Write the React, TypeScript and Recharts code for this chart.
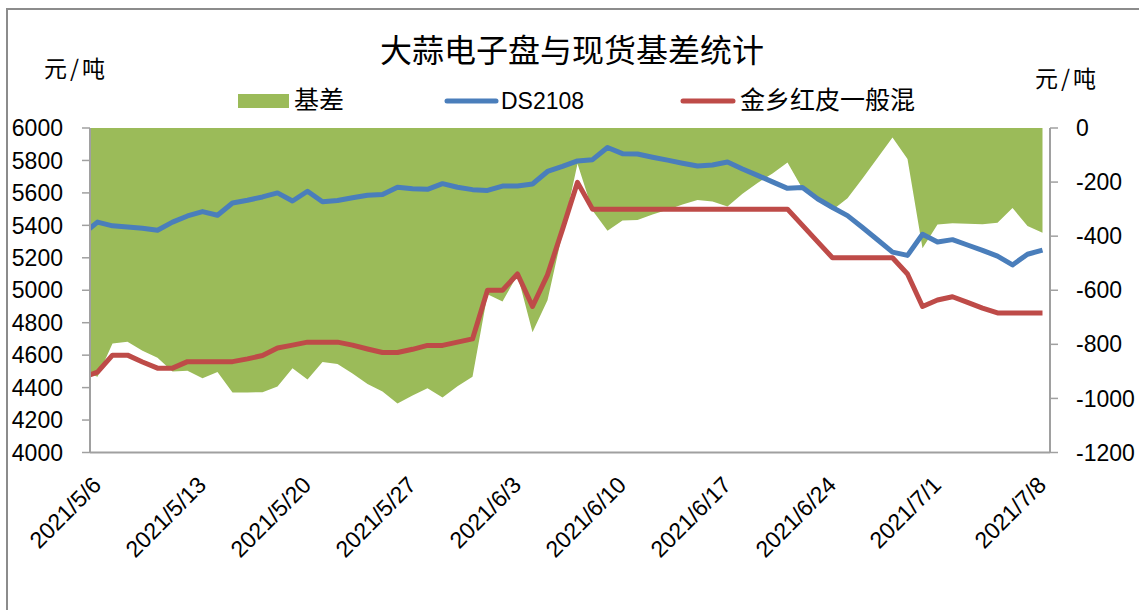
import React from 'react';
import { ComposedChart, Area, Line, XAxis, YAxis, Legend } from 'recharts';

// Dates (the first one lies just outside the visible axis range and is clipped)
const dates = [
  '2021/5/5',
  '2021/5/6', '2021/5/7', '2021/5/8', '2021/5/9', '2021/5/10', '2021/5/11', '2021/5/12',
  '2021/5/13', '2021/5/14', '2021/5/15', '2021/5/16', '2021/5/17', '2021/5/18', '2021/5/19',
  '2021/5/20', '2021/5/21', '2021/5/22', '2021/5/23', '2021/5/24', '2021/5/25', '2021/5/26',
  '2021/5/27', '2021/5/28', '2021/5/29', '2021/5/30', '2021/5/31', '2021/6/1', '2021/6/2',
  '2021/6/3', '2021/6/4', '2021/6/5', '2021/6/6', '2021/6/7', '2021/6/8', '2021/6/9',
  '2021/6/10', '2021/6/11', '2021/6/12', '2021/6/13', '2021/6/14', '2021/6/15', '2021/6/16',
  '2021/6/17', '2021/6/18', '2021/6/19', '2021/6/20', '2021/6/21', '2021/6/22', '2021/6/23',
  '2021/6/24', '2021/6/25', '2021/6/26', '2021/6/27', '2021/6/28', '2021/6/29', '2021/6/30',
  '2021/7/1', '2021/7/2', '2021/7/3', '2021/7/4', '2021/7/5', '2021/7/6', '2021/7/7',
  '2021/7/8',
];

// DS2108 (left axis, 元/吨)
const futures = [
  5344,
  5420, 5397, 5390, 5382, 5370, 5420, 5458,
  5485, 5462, 5538, 5555, 5575, 5600, 5550,
  5610, 5545, 5553, 5570, 5585, 5590, 5635,
  5625, 5622, 5657, 5635, 5620, 5615, 5642,
  5643, 5655, 5732, 5763, 5797, 5805, 5880,
  5842, 5840, 5820, 5802, 5783, 5766, 5772,
  5790, 5747, 5708, 5668, 5628, 5633, 5564,
  5510, 5460, 5387, 5311, 5235, 5215, 5345,
  5297, 5312, 5279, 5246, 5210, 5156, 5222,
  5247,
];

// 金乡红皮一般混 (left axis, 元/吨)
const spot = [
  4461,
  4495, 4600, 4600, 4558, 4520, 4520, 4560,
  4560, 4560, 4560, 4577, 4598, 4644, 4662,
  4680, 4680, 4680, 4662, 4638, 4616, 4616,
  4636, 4660, 4660, 4680, 4700, 5000, 5000,
  5100, 4900, 5095, 5375, 5665, 5500, 5500,
  5500, 5500, 5500, 5500, 5500, 5500, 5500,
  5500, 5500, 5500, 5500, 5500, 5400, 5300,
  5200, 5200, 5200, 5200, 5200, 5100, 4900,
  4940, 4960, 4925, 4890, 4860, 4860, 4860,
  4860,
];

// 基差 (right axis, 元/吨)
const basis = [
  -900,
  -920, -797, -790, -824, -850, -900, -898,
  -925, -902, -978, -978, -977, -956, -888,
  -930, -865, -873, -908, -947, -974, -1019,
  -989, -962, -997, -955, -920, -615, -642,
  -543, -755, -637, -388, -132, -305, -380,
  -342, -340, -320, -302, -283, -266, -272,
  -290, -243, -203, -168, -128, -225, -264,
  -303, -260, -187, -111, -35, -115, -445,
  -357, -352, -354, -356, -350, -296, -362,
  -387,
];

const tickDates = [
  '2021/5/6', '2021/5/13', '2021/5/20', '2021/5/27', '2021/6/3',
  '2021/6/10', '2021/6/17', '2021/6/24', '2021/7/1', '2021/7/8',
];
const leftTicks = [4000, 4200, 4400, 4600, 4800, 5000, 5200, 5400, 5600, 5800, 6000];
const rightTicks = [-1200, -1000, -800, -600, -400, -200, 0];

const titleText = '大蒜电子盘与现货基差统计';
const unitText = '元/吨';
const nameBasis = '基差';
const nameFutures = 'DS2108';
const nameSpot = '金乡红皮一般混';

const GREEN = '#9BBB59';
const BLUE = '#4A7EBB';
const RED = '#BE4B48';
const AXIS = '#A0A0A0';
const NUM_FONT = '"Liberation Sans", Arial, sans-serif';
const CJK_FONT = '"Noto Sans CJK SC", "Noto Sans", sans-serif';

const baseIndex = dates.indexOf('2021/5/6');
const data = dates.map((d, k) => ({
  day: k - baseIndex,
  date: d,
  basis: basis[k],
  futures: futures[k],
  spot: spot[k],
}));
const lastDay = dates.length - 1 - baseIndex;
const xTicks = tickDates.map((d) => dates.indexOf(d) - baseIndex);

const DateTick = (props: any) => {
  const { x, y, payload } = props;
  const label = dates[payload.value + baseIndex];
  const ax = x + 5;
  const ay = y + 34;
  return (
    <text
      x={ax}
      y={ay}
      textAnchor="end"
      fontSize={23}
      fontFamily={NUM_FONT}
      fill="#000"
      transform={`rotate(-45, ${ax}, ${ay})`}
    >
      {label}
    </text>
  );
};

const LegendContent = () => (
  <svg width={1139} height={40} style={{ display: 'block' }}>
    <g transform="translate(0,-80)">
      <rect x={238} y={94} width={51} height={14} fill={GREEN} />
      <text x={294} y={109} fontSize={25} fontFamily={CJK_FONT} fill="#000">
        {nameBasis}
      </text>
      <line x1={447} y1={101} x2={496} y2={101} stroke={BLUE} strokeWidth={5} strokeLinecap="round" />
      <text x={501} y={109} fontSize={23} fontFamily={NUM_FONT} fill="#000">
        {nameFutures}
      </text>
      <line x1={683} y1={101} x2={733} y2={101} stroke={RED} strokeWidth={5} strokeLinecap="round" />
      <text x={740} y={109} fontSize={25} fontFamily={CJK_FONT} fill="#000">
        {nameSpot}
      </text>
    </g>
  </svg>
);

export default function App() {
  return (
    <div style={{ position: 'absolute', left: 0, top: 0, width: 1139, height: 610, background: '#fff', overflow: 'hidden' }}>
      <ComposedChart
        width={1139}
        height={610}
        data={data}
        margin={{ top: 128, right: 0, bottom: 57.5, left: 0 }}
      >
        <XAxis
          dataKey="day"
          type="number"
          domain={[-0.5, lastDay + 0.5]}
          allowDataOverflow
          ticks={xTicks}
          interval={0}
          tick={<DateTick />}
          tickLine={false}
          tickSize={0}
          tickMargin={0}
          height={100}
          axisLine={{ stroke: AXIS, strokeWidth: 2 }}
        />
        <YAxis
          yAxisId="left"
          orientation="left"
          domain={[4000, 6000]}
          ticks={leftTicks}
          interval={0}
          width={90}
          tickSize={8}
          tickMargin={19}
          tickLine={{ stroke: AXIS, strokeWidth: 1.5 }}
          axisLine={{ stroke: AXIS, strokeWidth: 2 }}
          tick={{ fontSize: 23, fontFamily: NUM_FONT, fill: '#000' }}
          allowDataOverflow
        />
        <YAxis
          yAxisId="right"
          orientation="right"
          domain={[-1200, 0]}
          ticks={rightTicks}
          interval={0}
          width={89}
          tickSize={8}
          tickMargin={18}
          tickLine={{ stroke: AXIS, strokeWidth: 1.5 }}
          axisLine={{ stroke: AXIS, strokeWidth: 2 }}
          tick={{ fontSize: 23, fontFamily: NUM_FONT, fill: '#000', textAnchor: 'start' }}
          allowDataOverflow
        />
        <Legend
          verticalAlign="middle"
          align="center"
          layout="horizontal"
          content={<LegendContent />}
          wrapperStyle={{ left: 0, top: 80, width: 1139, height: 40 }}
        />
        <Area
          yAxisId="right"
          dataKey="basis"
          name={nameBasis}
          type="linear"
          fill={GREEN}
          fillOpacity={1}
          stroke="none"
          baseValue={0}
          isAnimationActive={false}
          dot={false}
          activeDot={false}
        />
        <Line
          yAxisId="left"
          dataKey="futures"
          name={nameFutures}
          type="linear"
          stroke={BLUE}
          strokeWidth={5}
          strokeLinejoin="round"
          dot={false}
          activeDot={false}
          isAnimationActive={false}
        />
        <Line
          yAxisId="left"
          dataKey="spot"
          name={nameSpot}
          type="linear"
          stroke={RED}
          strokeWidth={5}
          strokeLinejoin="round"
          dot={false}
          activeDot={false}
          isAnimationActive={false}
        />
      </ComposedChart>
      <svg
        width={1139}
        height={610}
        style={{ position: 'absolute', left: 0, top: 0, pointerEvents: 'none' }}
      >
        <rect x={7} y={9} width={1160} height={640} fill="none" stroke="#8C8C8C" strokeWidth={2} />
        <text x={572} y={62} textAnchor="middle" fontSize={32} fontFamily={CJK_FONT} fill="#000">
          {titleText}
        </text>
        <text x={44} y={77} fontSize={23} fontFamily={CJK_FONT} fill="#000" letterSpacing={3}>
          {unitText}
        </text>
        <text x={1035} y={87} fontSize={23} fontFamily={CJK_FONT} fill="#000" letterSpacing={3}>
          {unitText}
        </text>
      </svg>
    </div>
  );
}
